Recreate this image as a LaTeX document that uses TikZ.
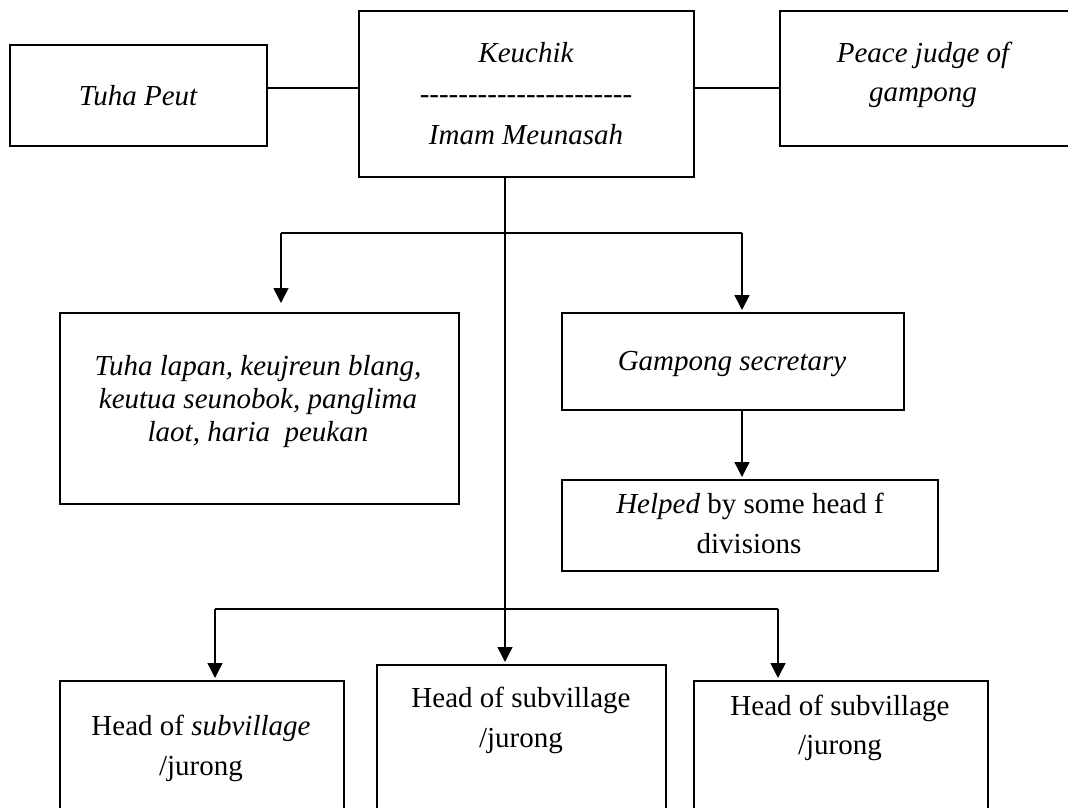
\documentclass[tikz,border=0pt]{standalone}
\usepackage{fontspec}
\setmainfont{Liberation Serif}
\newfontfamily\nolig{Liberation Serif}
\usetikzlibrary{arrows.meta,calc}
\tikzset{
  x=1pt, y=-1pt,
  box/.style={draw, line width=1.7pt, inner sep=0pt, anchor=north west},
  txt/.style={anchor=base, inner sep=0pt, font=\fontsize{29}{33}\selectfont},
  conn/.style={line width=1.8pt},
  arr/.style={line width=1.5pt, -{Triangle[length=15pt,width=15pt]}},
}
\begin{document}
\begin{tikzpicture}
\useasboundingbox (0,0) rectangle (1068,808);
\begin{scope}
\clip (0,0) rectangle (1068,808);
% boxes
\node[box, minimum width=257pt, minimum height=101pt] (tuha) at (9,44) {};
\node[box, minimum width=335pt, minimum height=166pt] (keu) at (358,10) {};
\node[box, minimum width=300pt, minimum height=135pt] (peace) at (779,10) {};
\node[box, minimum width=399pt, minimum height=191pt] (list) at (59,312) {};
\node[box, minimum width=342pt, minimum height=97pt] (sec) at (561,312) {};
\node[box, minimum width=376pt, minimum height=91pt] (help) at (561,479) {};
\node[box, minimum width=284pt, minimum height=160pt] (b1) at (59,680) {};
\node[box, minimum width=289pt, minimum height=170pt] (b2) at (376,664) {};
\node[box, minimum width=294pt, minimum height=160pt] (b3) at (693,680) {};
\end{scope}
% texts
\node[txt] (t1) at (138,105) {\itshape Tuha Peut};
\node[txt] (t2) at (526,63) {\itshape Keuchik};
\node[txt] (t3) at (526,103) {\nolig\itshape ----------------------};
\node[txt] (t4) at (526,144) {\itshape Imam Meunasah};
\node[txt] (t5) at (923,63) {\itshape Peace judge of};
\node[txt] (t6) at (923,101) {\itshape gampong};
\node[txt] (t7) at (258,375) {\itshape Tuha lapan, keujreun blang,};
\node[txt] (t8) at (258,408) {\itshape keutua seunobok, panglima};
\node[txt] (t9) at (258,441) {\itshape laot, haria\ \ peukan};
\node[txt] (t10) at (732,370) {\itshape Gampong secretary};
\node[txt] (t11) at (750,513) {\textit{Helped} by some head f};
\node[txt] (t12) at (749,553) {divisions};
\node[txt] (t13) at (201,735) {Head of \textit{subvillage}};
\node[txt] (t14) at (201,775) {/jurong};
\node[txt] (t15) at (521,707) {Head of subvillage};
\node[txt] (t16) at (521,747) {/jurong};
\node[txt] (t17) at (840,715) {Head of subvillage};
\node[txt] (t18) at (840,754) {/jurong};
% connectors
\draw[conn] (tuha.east |- 0,88) -- (keu.west |- 0,88);
\draw[conn] (keu.east |- 0,88) -- (peace.west |- 0,88);
\coordinate (j1) at (505,233);
\coordinate (j2) at (505,609);
\draw[conn] (keu.south -| j1) -- (j1) -- (j2);
\draw[arr] (j2) -- ($(b2.north -| j2)+(0,-2)$);
\draw[conn] (281,233) -- (742,233);
\draw[arr] (281,233) -- (281,303);
\draw[arr] (742,233) -- ($(sec.north -| 742,0)+(0,-2)$);
\draw[arr] (sec.south -| 742,0) -- ($(help.north -| 742,0)+(0,-2)$);
\draw[conn] (215,609) -- (778,609);
\draw[arr] (215,609) -- ($(b1.north -| 215,0)+(0,-2)$);
\draw[arr] (778,609) -- ($(b3.north -| 778,0)+(0,-2)$);
\end{tikzpicture}
\end{document}
